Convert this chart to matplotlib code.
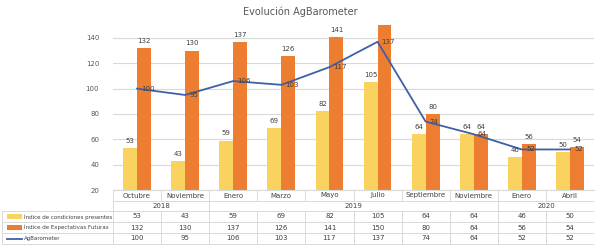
import numpy as np
from matplotlib import pyplot as plt

plt.rcParams['font.family'] = ['Liberation Sans Narrow', 'DejaVu Sans']

# data
months = ['Octubre', 'Noviembre', 'Enero', 'Marzo', 'Mayo', 'Julio',
          'Septiembre', 'Noviembre', 'Enero', 'Abril']
years = [('2018', 0, 1), ('2019', 2, 7), ('2020', 8, 9)]
presentes = [53, 43, 59, 69, 82, 105, 64, 64, 46, 50]
futuras = [132, 130, 137, 126, 141, 150, 80, 64, 56, 54]
barometer = [100, 95, 106, 103, 117, 137, 74, 64, 52, 52]
series_names = ['Índice de condiciones presentes', 'Índice de Expectativas Futuras', 'AgBarometer']

yellow = '#FAD25F'
orange = '#ED7D31'
blue = '#3F5FA6'
grid = '#D9D9D9'
txt = '#404040'

W, H = 600, 247
fig = plt.figure(figsize=(W/100, H/100), dpi=100)

left_px, right_px, top_px, bot_px = 113, 594, 25.3, 190
ax = fig.add_axes([left_px/W, 1-bot_px/H, (right_px-left_px)/W, (bot_px-top_px)/H])

x = np.arange(len(months))
bw = 0.29
ax.bar(x-bw/2, presentes, bw, color=yellow, zorder=2)
ax.bar(x+bw/2, futuras, bw, color=orange, zorder=2)
ax.plot(x, barometer, color=blue, lw=1.3, zorder=3)

ax.set_xlim(-0.5, len(months)-0.5)
ax.set_ylim(20, 150)
ax.set_yticks(range(20, 141, 20))
ax.tick_params(axis='y', length=0, labelsize=5, labelcolor='#595959', pad=10)
ax.set_xticks([])
ax.grid(axis='y', color=grid, lw=0.8, zorder=0)
for s in ['top', 'right', 'left']:
    ax.spines[s].set_visible(False)
ax.spines['bottom'].set_color(grid)
ax.spines['bottom'].set_linewidth(0.8)

for i in range(len(months)):
    ax.annotate(str(presentes[i]), (x[i]-bw/2, presentes[i]), xytext=(0, 3),
                textcoords='offset points', ha='center', va='bottom', fontsize=5, color=txt)
    if futuras[i] < 150:
        ax.annotate(str(futuras[i]), (x[i]+bw/2, futuras[i]), xytext=(0, 3),
                    textcoords='offset points', ha='center', va='bottom', fontsize=5, color=txt)
    ax.annotate(str(barometer[i]), (x[i], barometer[i]), xytext=(3, 0),
                textcoords='offset points', ha='left', va='center', fontsize=5, color=txt)

fig.text(0.5, 1-12/H, 'Evolución AgBarometer', ha='center', va='center', fontsize=7, color='#595959')

# data table below the plot
col = (right_px-left_px)/len(months)
tab = fig.add_axes([0, 1-246/H, right_px/W, 56/H])
tab.set_xlim(-0.5-left_px/col, len(months)-0.5)
tab.set_ylim(56, 0)
tab.axis('off')
x0 = -0.5-left_px/col + 2/col
xe = len(months)-0.5
lc = dict(color=grid, lw=0.7)

rows = [0, 11, 21, 32, 43, 54]
tab.plot([-0.5, xe], [rows[1], rows[1]], **lc)
for r in rows[2:]:
    tab.plot([x0, xe], [r, r], **lc)
tab.plot([x0, x0], [rows[2], rows[5]], **lc)
for k in range(len(months)+1):
    tab.plot([k-0.5, k-0.5], [rows[0], rows[1]], **lc)
    tab.plot([k-0.5, k-0.5], [rows[2], rows[5]], **lc)
for name, a, b in years:
    tab.plot([a-0.5, a-0.5], [rows[1], rows[2]], **lc)
    tab.plot([b+0.5, b+0.5], [rows[1], rows[2]], **lc)
    tab.text((a+b)/2, (rows[1]+rows[2])/2, name, ha='center', va='center', fontsize=5, color=txt)
for i, m in enumerate(months):
    tab.text(i, (rows[0]+rows[1])/2, m, ha='center', va='center', fontsize=5, color=txt)

values = [presentes, futuras, barometer]
for j, vals in enumerate(values):
    yc = (rows[2+j]+rows[3+j])/2
    for i, v in enumerate(vals):
        tab.text(i, yc, str(v), ha='center', va='center', fontsize=5, color=txt)
    kx = x0 + 5/col
    kw = 15/col
    if j < 2:
        tab.add_patch(plt.Rectangle((kx, yc-2.5), kw, 5, color=[yellow, orange][j], lw=0))
    else:
        tab.plot([kx, kx+kw], [yc, yc], color=blue, lw=1.3)
    tab.text(kx+kw+2/col, yc, series_names[j], ha='left', va='center', fontsize=4, color=txt)

fig.savefig('out.png', dpi=100, facecolor='white')
